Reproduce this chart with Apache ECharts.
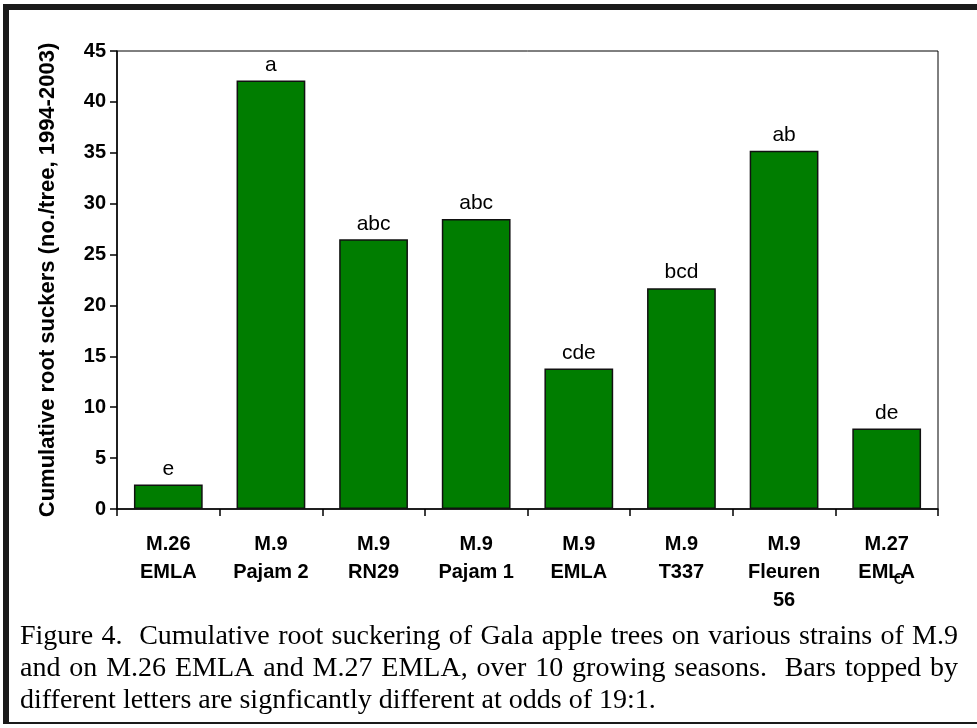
<!DOCTYPE html>
<html>
<head>
<meta charset="utf-8">
<script src="https://cdn.jsdelivr.net/npm/echarts@6/dist/echarts.min.js"></script>
<style>
  html, body { margin: 0; padding: 0; background: #fff; }
  #chart { width: 977px; height: 728px; }
</style>
</head>
<body>
<div id="chart"></div>
<script>
// Rootstock strains (x categories)
const categories = [
  'M.26\nEMLA', 'M.9\nPajam 2', 'M.9\nRN29', 'M.9\nPajam 1',
  'M.9\nEMLA', 'M.9\nT337', 'M.9\nFleuren\n56', 'M.27\nEMLA'
];
// Cumulative root suckers per tree, 1994-2003
const suckers = [2.4, 42.1, 26.5, 28.5, 13.8, 21.7, 35.2, 7.9];
// Mean separation letters shown above each bar
const letters = ['e', 'a', 'abc', 'abc', 'cde', 'bcd', 'ab', 'de'];
// Y axis ticks
const yTicks = [0, 5, 10, 15, 20, 25, 30, 35, 40, 45];

const captionLines = [
  'Figure 4.  Cumulative root suckering of Gala apple trees on various strains of M.9',
  'and on M.26 EMLA and M.27 EMLA, over 10 growing seasons.  Bars topped by',
  'different letters are signficantly different at odds of 19:1.'
];

const chart = echarts.init(document.getElementById('chart'), null, { renderer: 'canvas' });

const axisFont = 'Arial, "Liberation Sans", sans-serif';
const captionFont = '"Liberation Serif", "Times New Roman", serif';
const captionSize = 28;

chart.setOption({
  backgroundColor: '#ffffff',
  animation: false,
  grid: {
    left: 117, top: 51, right: 39, bottom: 219,
    show: true, borderColor: '#000', borderWidth: 1, backgroundColor: 'transparent'
  },
  xAxis: {
    type: 'category',
    data: categories,
    axisLine: { lineStyle: { color: '#000', width: 1.5 } },
    axisTick: { show: true, length: 7, lineStyle: { color: '#000', width: 1.5 } },
    axisLabel: {
      color: '#000', fontFamily: axisFont, fontWeight: 'bold', fontSize: 20,
      lineHeight: 28, margin: 21, interval: 0
    }
  },
  yAxis: {
    type: 'value',
    min: yTicks[0], max: yTicks[yTicks.length - 1], interval: 5,
    name: 'Cumulative root suckers (no./tree, 1994-2003)',
    nameLocation: 'middle', nameGap: 58,
    nameTextStyle: { color: '#000', fontFamily: axisFont, fontWeight: 'bold', fontSize: 22 },
    axisLine: { show: true, lineStyle: { color: '#000', width: 1.5 } },
    axisTick: { show: true, length: 7, lineStyle: { color: '#000', width: 1.5 } },
    axisLabel: { color: '#000', fontFamily: axisFont, fontWeight: 'bold', fontSize: 20, margin: 11 },
    splitLine: { show: false }
  },
  series: [{
    type: 'bar',
    data: suckers,
    barCategoryGap: '33%',
    itemStyle: { color: '#007d00', borderColor: '#111', borderWidth: 1.5 },
    label: {
      show: true, position: 'top', distance: 5,
      color: '#000', fontFamily: axisFont, fontSize: 21,
      formatter: p => letters[p.dataIndex]
    }
  }]
});

// Caption lines: all but the last are justified to the text block width.
const measure = document.createElement('canvas').getContext('2d');
measure.font = captionSize + 'px ' + captionFont;
const textLeft = 20, textRight = 958;
const lineY = [637, 669, 701];
const graphics = [];

captionLines.forEach((line, i) => {
  const justify = i < captionLines.length - 1;
  const words = line.split(' ');
  const widths = words.map(w => measure.measureText(w).width);
  const total = widths.reduce((a, b) => a + b, 0);
  const spaceW = measure.measureText(' ').width;
  const gap = justify ? (textRight - textLeft - total) / (words.length - 1) : spaceW;
  let x = textLeft;
  words.forEach((w, k) => {
    if (w) {
      graphics.push({
        type: 'text', x: x, y: lineY[i],
        style: {
          text: w, fill: '#000', font: captionSize + 'px ' + captionFont,
          verticalAlign: 'middle', align: 'left'
        }
      });
    }
    x += widths[k] + gap;
  });
});

// Stray significance letter printed under the last category label
const lastPt = chart.convertToPixel({ seriesIndex: 0 }, [categories.length - 1, 0]);
graphics.push({
  type: 'text', x: lastPt[0] + 12, y: lastPt[1] + 69,
  style: { text: 'c', fill: '#000', font: '21px ' + axisFont, align: 'center', verticalAlign: 'middle' }
});

// Page frame
graphics.push(
  { type: 'rect', shape: { x: 3, y: 4, width: 974, height: 6 }, style: { fill: '#1a1a1a' } },
  { type: 'rect', shape: { x: 3, y: 4, width: 6, height: 720 }, style: { fill: '#1a1a1a' } },
  { type: 'rect', shape: { x: 3, y: 722, width: 974, height: 2 }, style: { fill: '#1a1a1a' } }
);

chart.setOption({ graphic: graphics });
</script>
</body>
</html>
